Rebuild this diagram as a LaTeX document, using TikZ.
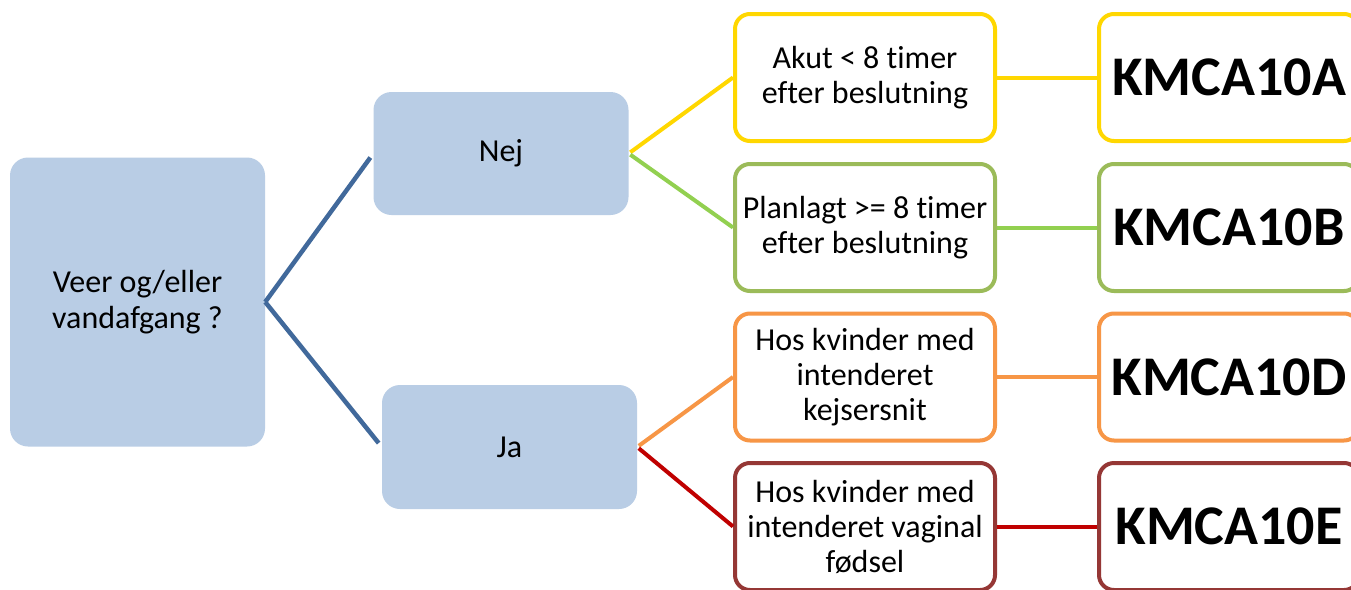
\documentclass[tikz,border=0pt]{standalone}
\usepackage{fontspec}
\setmainfont{Carlito}[Ligatures=NoCommon]
\definecolor{boxfill}{HTML}{B9CDE5}
\definecolor{bluel}{HTML}{41699B}
\definecolor{ylw}{HTML}{FFD700}
\definecolor{grnb}{HTML}{9BBB59}
\definecolor{grnl}{HTML}{92D050}
\definecolor{org}{HTML}{F79646}
\definecolor{dred}{HTML}{953735}
\definecolor{redl}{HTML}{C00000}
\begin{document}
\begin{tikzpicture}[x=1pt,y=-1pt,
  bluebox/.style={fill=boxfill, draw=none, rounded corners=18pt, align=center,
    font=\fontsize{32}{36}\selectfont, inner sep=0pt},
  midbox/.style={draw=#1, line width=4pt, fill=white, rounded corners=15pt,
    minimum width=260pt, minimum height=127pt, align=center, inner sep=0pt,
    font=\fontsize{32}{35}\selectfont},
  codebox/.style={draw=#1, line width=4pt, fill=white, rounded corners=15pt,
    minimum width=260pt, minimum height=127pt, align=center, inner sep=0pt,
    font=\fontsize{56}{60}\selectfont\bfseries},
  conn/.style={draw=#1, line width=4pt}]
\useasboundingbox (0,0) rectangle (1351,589);
\clip (0,0) rectangle (1351,589);
\fill[white] (0,0) rectangle (1351,589);
% blue boxes
\node[bluebox, minimum width=255pt, minimum height=289pt] (root) at (137.5,302) {Veer og/eller\\vandafgang ?};
\node[bluebox, minimum width=255pt, minimum height=123pt] (nej) at (501,153.5) {Nej};
\node[bluebox, minimum width=255pt, minimum height=124pt] (ja) at (509.5,447) {Ja};
% middle boxes
\node[midbox=ylw] (akut) at (865,77.5) {Akut < 8 timer\\efter beslutning};
\node[midbox=grnb] (plan) at (865,227.5) {Planlagt >= 8 timer\\efter beslutning};
\node[midbox=org] (kejs) at (865,377) {Hos kvinder med\\intenderet\\kejsersnit};
\node[midbox=dred] (vag) at (865,526.5) {Hos kvinder med\\intenderet vaginal\\fødsel};
% code boxes
\node[codebox=ylw] (ca) at (1229,77.5) {KMCA10A};
\node[codebox=grnb] (cb) at (1229,227.5) {KMCA10B};
\node[codebox=org] (cd) at (1229,377) {KMCA10D};
\node[codebox=dred] (ce) at (1229,526.5) {KMCA10E};
% connectors
\draw[conn=bluel, line width=4.5pt, shorten >=5pt] (root.east) -- (nej.west);
\draw[conn=bluel, line width=4.5pt, shorten >=5pt] (root.east) -- (ja.west);
\draw[conn=ylw, shorten <=2pt] (nej.east) -- (akut.west);
\draw[conn=grnl, shorten <=2pt] (nej.east) -- (plan.west);
\draw[conn=org, shorten <=2pt] (ja.east) -- (kejs.west);
\draw[conn=redl, shorten <=2pt] (ja.east) -- (vag.west);
\draw[conn=ylw] (akut.east) -- (ca.west);
\draw[conn=grnl] (plan.east) -- (cb.west);
\draw[conn=org] (kejs.east) -- (cd.west);
\draw[conn=redl] (vag.east) -- (ce.west);
\end{tikzpicture}
\end{document}
